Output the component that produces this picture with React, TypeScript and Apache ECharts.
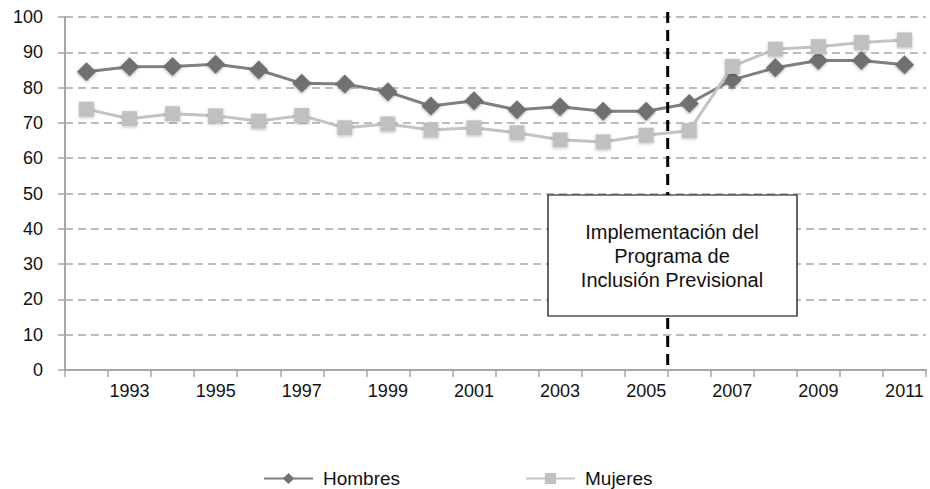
import React, { useEffect, useRef } from "react";
import * as echarts from "echarts";

const years = ["1992","1993","1994","1995","1996","1997","1998","1999","2000","2001","2002","2003","2004","2005","2006","2007","2008","2009","2010","2011"];
const hombres = [84.5, 85.9, 86.0, 86.6, 85.0, 81.2, 81.0, 78.8, 74.8, 76.3, 73.7, 74.6, 73.3, 73.3, 75.5, 82.2, 85.6, 87.7, 87.7, 86.5];
const mujeres = [73.9, 71.2, 72.6, 72.0, 70.5, 72.1, 68.6, 69.7, 68.0, 68.6, 67.2, 65.2, 64.6, 66.5, 67.8, 86.0, 90.9, 91.6, 92.8, 93.5];
const yTicks = { min: 0, max: 100, interval: 10 };
const annotationLines = ["Implementación del", "Programa de", "Inclusión Previsional"];
const boundaryYears = ["2005", "2006"];

const FONT = "'Liberation Sans', Arial, sans-serif";

export default function App() {
  const ref = useRef<HTMLDivElement>(null);
  useEffect(() => {
    document.body.style.margin = "0";
    const chart = echarts.init(ref.current!, undefined, { renderer: "svg" });
    const legendText = { fontSize: 19, fontFamily: FONT, color: "#111", padding: [3, 0, 0, 5] };
    chart.setOption({
      animation: false,
      grid: { left: 65, right: 4, top: 17, bottom: 119 },
      xAxis: {
        type: "category",
        data: years,
        boundaryGap: true,
        axisLine: { lineStyle: { color: "#a6a6a6", width: 2 } },
        axisTick: { show: true, interval: 0, length: 7, lineStyle: { color: "#a6a6a6", width: 1.5 } },
        axisLabel: {
          interval: (idx: number) => idx % 2 === 1,
          color: "#111",
          fontSize: 18,
          fontFamily: FONT,
          margin: 12,
        },
        splitLine: { show: false },
      },
      yAxis: {
        type: "value",
        min: yTicks.min,
        max: yTicks.max,
        interval: yTicks.interval,
        axisLine: { show: true, lineStyle: { color: "#a6a6a6", width: 2 } },
        axisTick: { show: true, length: 7, lineStyle: { color: "#a6a6a6", width: 1.5 } },
        axisLabel: { color: "#111", fontSize: 18, fontFamily: FONT, margin: 22 },
        splitLine: { show: true, lineStyle: { color: "#a6a6a6", type: [8, 5], width: 1.5 } },
      },
      legend: [
        {
          data: ["Hombres"],
          left: 263,
          top: 469,
          padding: 0,
          itemWidth: 49,
          itemHeight: 14,
          itemGap: 10,
          textStyle: legendText,
        },
        {
          data: ["Mujeres"],
          left: 525,
          top: 469,
          padding: 0,
          itemWidth: 49,
          itemHeight: 14,
          itemGap: 10,
          textStyle: legendText,
        },
      ],
      series: [
        {
          name: "Hombres",
          type: "line",
          data: hombres,
          symbol: "diamond",
          symbolSize: 19,
          z: 2,
          lineStyle: { color: "#7f7f7f", width: 3 },
          itemStyle: { color: "#707070", shadowBlur: 3, shadowColor: "rgba(0,0,0,0.35)", shadowOffsetY: 1 },
        },
        {
          name: "Mujeres",
          type: "line",
          data: mujeres,
          symbol: "rect",
          symbolSize: 15,
          z: 3,
          lineStyle: { color: "#c3c3c3", width: 3 },
          itemStyle: { color: "#c0c0c0", shadowBlur: 3, shadowColor: "rgba(0,0,0,0.25)", shadowOffsetY: 1 },
        },
      ],
    });

    const x1 = chart.convertToPixel({ xAxisIndex: 0 }, boundaryYears[0]) as number;
    const x2 = chart.convertToPixel({ xAxisIndex: 0 }, boundaryYears[1]) as number;
    const xb = (x1 + x2) / 2;
    const yTop = chart.convertToPixel({ yAxisIndex: 0 }, yTicks.max) as number;
    const yBot = chart.convertToPixel({ yAxisIndex: 0 }, yTicks.min) as number;

    chart.setOption({
      graphic: [
        {
          type: "line",
          z: 10,
          shape: { x1: xb, y1: yTop - 5, x2: xb, y2: yBot },
          style: { stroke: "#000", lineWidth: 3, lineDash: [11, 7] },
        },
        {
          type: "rect",
          z: 20,
          shape: { x: 548, y: 195, width: 249, height: 121 },
          style: { fill: "#fff", stroke: "#000", lineWidth: 1.2 },
        },
        {
          type: "text",
          z: 21,
          x: 672,
          y: 256,
          style: {
            text: annotationLines.join("\n"),
            fontSize: 20,
            fontFamily: FONT,
            fill: "#111",
            align: "center",
            verticalAlign: "middle",
            lineHeight: 24,
          },
        },
      ],
    });
    return () => chart.dispose();
  }, []);
  return <div ref={ref} style={{ width: 930, height: 489, position: "absolute", left: 0, top: 0 }} />;
}
